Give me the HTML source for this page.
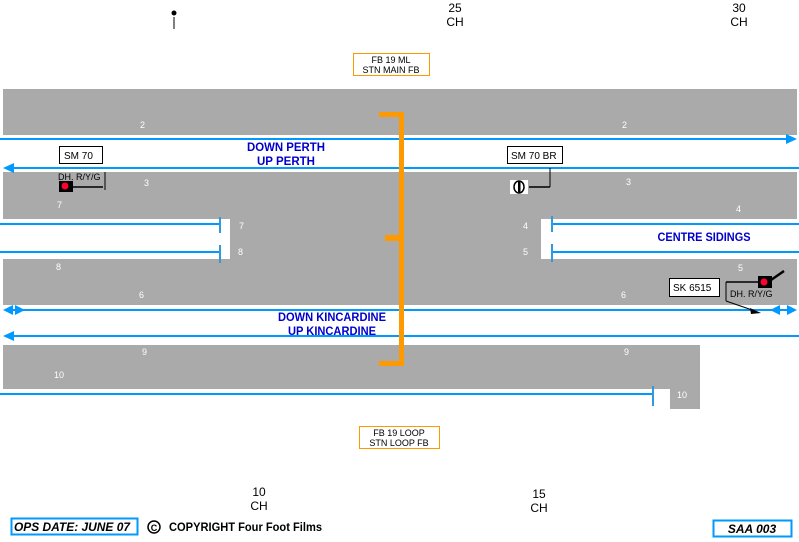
<!DOCTYPE html>
<html><head><style>
html,body{margin:0;padding:0;background:#fff;}
svg{display:block;font-family:"Liberation Sans",Arial,sans-serif;}
.n{fill:#fff;font-size:9px;}
.k{fill:#000;font-size:12px;}
.b{fill:#0000cc;font-size:11.5px;font-weight:bold;}
</style></head><body>
<svg width="799" height="542" viewBox="0 0 799 542" xmlns="http://www.w3.org/2000/svg">
<rect x="3" y="89" width="794" height="46" fill="#aaaaaa"/>
<rect x="3" y="172" width="794" height="133" fill="#aaaaaa"/>
<rect x="3" y="219" width="227" height="40" fill="#fff"/>
<rect x="541" y="219" width="258" height="40" fill="#fff"/>
<rect x="3" y="345" width="697" height="44" fill="#aaaaaa"/>
<rect x="670" y="389" width="30" height="20" fill="#aaaaaa"/>
<g stroke="#0099ff" stroke-width="2" fill="none">
<line x1="0" y1="139" x2="792" y2="139"/>
<line x1="8" y1="168" x2="799" y2="168"/>
<line x1="0" y1="224" x2="220" y2="224"/>
<line x1="0" y1="252" x2="220" y2="252"/>
<line x1="552" y1="224" x2="799" y2="224"/>
<line x1="552" y1="252" x2="799" y2="252"/>
<line x1="8" y1="310" x2="792" y2="310"/>
<line x1="8" y1="336" x2="799" y2="336"/>
<line x1="0" y1="394" x2="653" y2="394"/>
</g>
<g stroke="#3399dd" stroke-width="2">
<line x1="220" y1="217" x2="220" y2="233"/>
<line x1="220" y1="245" x2="220" y2="263"/>
<line x1="552" y1="216" x2="552" y2="232"/>
<line x1="552" y1="244" x2="552" y2="262"/>
<line x1="653" y1="386" x2="653" y2="406"/>
</g>
<g fill="#0099ff">
<polygon points="797,139 786,134 786,144"/>
<polygon points="3,168 14,163 14,173"/>
<polygon points="3,310 13,305 13,315"/>
<polygon points="25,310 15,305 15,315"/>
<polygon points="3,336 14,331 14,341"/>
<polygon points="797,310 787,305 787,315"/>
<polygon points="770,310 780,305 780,315"/>
</g>
<g fill="#ff9900">
<rect x="399" y="112" width="5" height="254"/>
<rect x="379" y="112" width="25" height="5"/>
<rect x="385" y="235" width="16" height="6"/>
<rect x="379" y="361" width="25" height="5"/>
</g>
<g class="n">
<text x="140" y="128">2</text><text x="622" y="128">2</text>
<text x="144" y="186">3</text><text x="626" y="185">3</text>
<text x="57" y="208">7</text><text x="736" y="212">4</text>
<text x="239" y="229">7</text><text x="238" y="255">8</text>
<text x="523" y="229">4</text><text x="523" y="255">5</text>
<text x="56" y="270">8</text><text x="738" y="271">5</text>
<text x="139" y="298">6</text><text x="621" y="298">6</text>
<text x="142" y="355">9</text><text x="624" y="355">9</text>
<text x="54" y="378">10</text><text x="677" y="398">10</text>
</g>
<g class="b" text-anchor="middle">
<text x="286" y="151" textLength="78" lengthAdjust="spacingAndGlyphs">DOWN PERTH</text>
<text x="286" y="165" textLength="58" lengthAdjust="spacingAndGlyphs">UP PERTH</text>
<text x="332" y="321" textLength="108" lengthAdjust="spacingAndGlyphs">DOWN KINCARDINE</text>
<text x="332" y="335" textLength="88" lengthAdjust="spacingAndGlyphs">UP KINCARDINE</text>
<text x="704" y="241" textLength="93" lengthAdjust="spacingAndGlyphs">CENTRE SIDINGS</text>
</g>
<rect x="353.5" y="53.5" width="76" height="22" fill="#fff" stroke="#ff9900"/>
<text x="391" y="63" font-size="9" text-anchor="middle">FB 19 ML</text>
<text x="391" y="73" font-size="9" text-anchor="middle">STN MAIN FB</text>
<rect x="359.5" y="426.5" width="80" height="22" fill="#fff" stroke="#ff9900"/>
<text x="399" y="436" font-size="9" text-anchor="middle">FB 19 LOOP</text>
<text x="399" y="446" font-size="9" text-anchor="middle">STN LOOP FB</text>
<rect x="59.5" y="146.5" width="43" height="17" fill="#fff" stroke="#000"/>
<text x="64" y="159" font-size="10">SM 70</text>
<rect x="507.5" y="146.5" width="55" height="17" fill="#fff" stroke="#000"/>
<text x="511" y="159" font-size="10">SM 70 BR</text>
<rect x="669.5" y="278.5" width="50" height="18" fill="#fff" stroke="#000"/>
<text x="673" y="291" font-size="10">SK 6515</text>
<text x="58" y="180" font-size="9">DH. R/Y/G</text>
<rect x="59" y="181" width="14" height="11" fill="#000"/>
<circle cx="65" cy="186" r="3.5" fill="#ff0033"/>
<line x1="73" y1="187" x2="103" y2="187" stroke="#000" stroke-width="1.5"/>
<line x1="105" y1="172" x2="105" y2="190" stroke="#000"/>
<rect x="510" y="180" width="18" height="14" fill="#fff"/>
<ellipse cx="519" cy="187" rx="5" ry="6" fill="none" stroke="#000" stroke-width="1.5"/>
<rect x="518" y="181" width="2.5" height="12" fill="#000"/>
<line x1="529" y1="187" x2="550" y2="187" stroke="#000" stroke-width="1.5"/>
<line x1="550" y1="168" x2="550" y2="187" stroke="#000"/>
<line x1="726" y1="282" x2="760" y2="282" stroke="#000" stroke-width="1.5"/>
<rect x="758" y="276" width="14" height="12" fill="#000"/>
<circle cx="764" cy="282" r="3.5" fill="#ff0033"/>
<line x1="771" y1="280" x2="784" y2="271" stroke="#000" stroke-width="2.5"/>
<text x="730" y="297" font-size="9">DH. R/Y/G</text>
<line x1="726" y1="282" x2="726" y2="301" stroke="#000"/>
<line x1="726" y1="301" x2="755" y2="311" stroke="#000"/>
<polygon points="761,313 750,308 751,314" fill="#000"/>
<circle cx="174" cy="13" r="2.5" fill="#000"/>
<line x1="174" y1="17" x2="174" y2="29" stroke="#000"/>
<g class="k" text-anchor="middle">
<text x="455" y="12">25</text><text x="455" y="26">CH</text>
<text x="739" y="12">30</text><text x="739" y="26">CH</text>
<text x="259" y="496">10</text><text x="259" y="510">CH</text>
<text x="539" y="498">15</text><text x="539" y="512">CH</text>
</g>
<rect x="11.5" y="518.5" width="126" height="16" fill="#fff" stroke="#0099ff" stroke-width="2"/>
<text x="14" y="531" font-size="12" font-weight="bold" font-style="italic" textLength="116" lengthAdjust="spacingAndGlyphs">OPS DATE: JUNE 07</text>
<circle cx="154" cy="527" r="6" fill="none" stroke="#000" stroke-width="1.5"/>
<text x="154" y="531" font-size="9" font-weight="bold" text-anchor="middle">C</text>
<text x="169" y="531" font-size="12" font-weight="bold" textLength="153" lengthAdjust="spacingAndGlyphs">COPYRIGHT Four Foot Films</text>
<rect x="713.5" y="520.5" width="78" height="16" fill="#fff" stroke="#0099ff" stroke-width="2"/>
<text x="752" y="533" font-size="12" font-weight="bold" font-style="italic" text-anchor="middle">SAA 003</text>
</svg>
</body></html>
